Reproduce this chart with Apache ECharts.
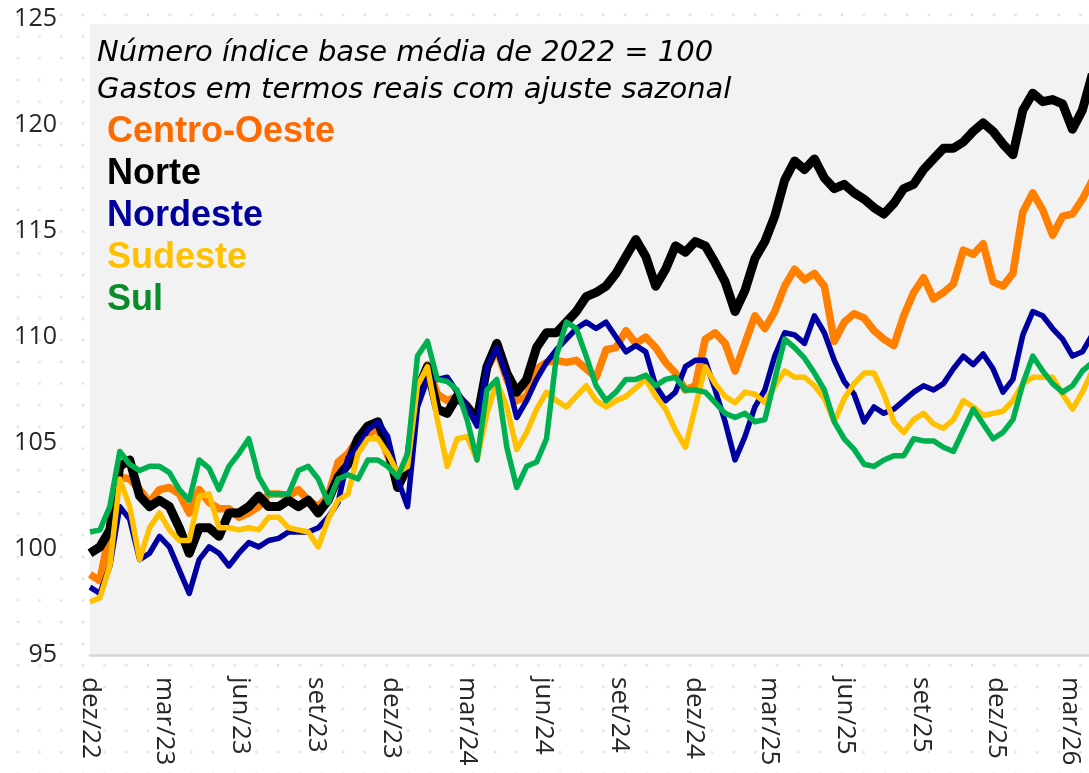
<!DOCTYPE html>
<html>
<head>
<meta charset="utf-8">
<script src="https://cdn.jsdelivr.net/npm/echarts@6/dist/echarts.min.js"></script>
<style>
  html, body {
    margin: 0;
    padding: 0;
    width: 1089px;
    height: 773px;
    overflow: hidden;
    background-color: #fff;
    background-image: radial-gradient(circle, #e0e0e0 1.1px, transparent 1.7px);
    background-size: 21.7px 21.7px;
    background-position: 7px 4px;
  }
  #chart {
    width: 1089px;
    height: 773px;
  }
</style>
</head>
<body>
<div id="chart"></div>
<script>
// amostras a cada 12 dias a partir de 01/12/2022
const startDate = [2022, 11, 1]
const stepDays = 12

const tickLabels = ['dez/22', 'mar/23', 'jun/23', 'set/23', 'dez/23', 'mar/24', 'jun/24', 'set/24', 'dez/24', 'mar/25', 'jun/25', 'set/25', 'dez/25', 'mar/26']
const monthNames = ['jan', 'fev', 'mar', 'abr', 'mai', 'jun', 'jul', 'ago', 'set', 'out', 'nov', 'dez']

const yTicks = [95, 100, 105, 110, 115, 120, 125]

const titleLines = ['Número índice base média de 2022 = 100', 'Gastos em termos reais com ajuste sazonal']

const regions = ['Centro-Oeste', 'Norte', 'Nordeste', 'Sudeste', 'Sul']
const lineColors = ['#ff7f00', '#000000', '#0000a0', '#ffc000', '#00b050']
const labelColors = ['#ff6a00', '#000000', '#00009c', '#ffc000', '#0a8c2a']

const centroOeste = [
  98.8, 98.5, 100.9, 103.4, 103.3, 102.8, 102.2, 102.8, 102.9, 102.6, 101.7, 102.8, 102.2, 101.9, 101.9, 101.5, 101.7, 102.0, 102.6, 102.6, 102.5, 102.8, 102.3, 102.0, 102.5, 104.1,
  104.5, 105.2, 105.4, 105.7, 104.4, 103.3, 103.7, 107.5, 108.7, 107.3, 107.0, 107.2, 106.8, 106.1, 108.5, 109.4, 108.0, 107.0, 107.2, 108.5, 108.8, 108.9, 108.8, 108.9, 108.5, 108.1,
  109.4, 109.5, 110.3, 109.7, 110.0, 109.5, 108.8, 108.3, 107.5, 107.7, 109.9, 110.2, 109.7, 108.4, 109.7, 111.0, 110.4, 111.2, 112.4, 113.2, 112.7, 113.0, 112.4, 109.8, 110.7,
  111.1, 110.9, 110.3, 109.9, 109.6, 111.0, 112.1, 112.8, 111.8, 112.1, 112.5, 114.1, 113.9, 114.4, 112.6, 112.4, 113.0, 115.9, 116.8, 116.0, 114.8, 115.7, 115.8, 116.5, 117.4
]
const norte = [
  99.8, 100.1, 100.9, 103.9, 104.2, 102.5, 102.0, 102.3, 102.0, 101.0, 99.8, 101.0, 101.0, 100.6, 101.7, 101.7, 102.0, 102.5, 102.0, 102.0, 102.3, 102.0, 102.3, 101.7, 102.3, 103.4,
  104.0, 105.2, 105.8, 106.0, 104.8, 102.9, 103.9, 107.5, 108.6, 106.6, 106.4, 107.2, 106.7, 106.1, 108.6, 109.7, 108.3, 107.4, 108.0, 109.5, 110.2, 110.2, 110.7, 111.2, 111.9, 112.1,
  112.4, 113.0, 113.8, 114.6, 113.8, 112.4, 113.2, 114.3, 114.0, 114.5, 114.3, 113.5, 112.6, 111.2, 112.2, 113.7, 114.5, 115.7, 117.4, 118.3, 117.9, 118.4, 117.5, 117.0, 117.2,
  116.8, 116.5, 116.1, 115.8, 116.3, 117.0, 117.2, 117.9, 118.4, 118.9, 118.9, 119.2, 119.7, 120.1, 119.7, 119.1, 118.6, 120.7, 121.5, 121.1, 121.2, 121.0, 119.8, 120.7, 122.4
]
const nordeste = [
  98.2, 97.9, 99.2, 102.0, 101.4, 99.5, 99.8, 100.6, 100.1, 99.0, 97.9, 99.5, 100.1, 99.8, 99.2, 99.8, 100.3, 100.1, 100.4, 100.5, 100.8, 100.8, 100.8, 101.0, 101.5, 102.2,
  104.3, 104.8, 105.6, 106.0, 105.3, 103.3, 102.0, 106.7, 108.0, 108.0, 108.1, 107.4, 106.7, 105.8, 108.6, 109.5, 108.1, 106.2, 107.0, 108.0, 108.8, 109.4, 109.9, 110.4, 110.7, 110.4,
  110.7, 110.0, 109.3, 109.6, 109.3, 107.7, 107.0, 107.4, 108.6, 108.9, 108.9, 107.5, 106.0, 104.2, 105.3, 106.7, 107.5, 109.1, 110.2, 110.1, 109.7, 111.0, 110.2, 108.9, 107.9,
  107.3, 106.0, 106.7, 106.4, 106.6, 107.0, 107.4, 107.7, 107.5, 107.8, 108.5, 109.1, 108.7, 109.2, 108.5, 107.4, 108.0, 110.1, 111.2, 111.0, 110.4, 109.9, 109.1, 109.3, 110.1
]
const sudeste = [
  97.5, 97.7, 99.2, 103.3, 102.0, 99.5, 101.0, 101.7, 100.9, 100.4, 100.4, 102.5, 102.6, 101.0, 101.0, 100.9, 101.0, 100.9, 101.5, 101.5, 101.0, 100.9, 100.8, 100.1, 101.4, 102.3,
  102.6, 104.5, 105.2, 105.2, 104.5, 103.6, 103.9, 107.7, 108.6, 106.1, 103.9, 105.2, 105.3, 104.2, 106.4, 107.9, 106.7, 104.7, 105.5, 106.6, 107.4, 107.0, 106.7, 107.2, 107.7, 107.0,
  106.7, 107.0, 107.2, 107.6, 108.0, 107.2, 106.6, 105.6, 104.8, 106.7, 108.6, 107.8, 107.2, 106.9, 107.4, 107.3, 106.9, 107.7, 108.4, 108.1, 108.1, 107.7, 107.1, 106.0, 107.1,
  107.8, 108.3, 108.3, 107.3, 106.0, 105.5, 106.1, 106.4, 105.9, 105.7, 106.1, 107.0, 106.7, 106.3, 106.4, 106.5, 107.0, 107.8, 108.1, 108.1, 108.1, 107.3, 106.6, 107.4, 108.4
]
const sul = [
  100.8, 100.9, 102.0, 104.6, 104.0, 103.7, 103.9, 103.9, 103.6, 102.8, 102.3, 104.2, 103.8, 102.8, 103.9, 104.5, 105.2, 103.4, 102.6, 102.6, 102.6, 103.7, 103.9, 103.3, 102.2, 103.3,
  103.5, 103.3, 104.2, 104.2, 103.9, 103.4, 104.5, 109.1, 109.8, 108.0, 107.9, 107.5, 106.1, 104.2, 107.5, 108.0, 104.8, 102.9, 103.9, 104.1, 105.2, 109.1, 110.7, 110.4, 109.1, 107.7,
  107.0, 107.4, 108.0, 108.0, 108.2, 107.7, 108.0, 108.1, 107.5, 107.5, 107.4, 106.9, 106.4, 106.2, 106.4, 106.0, 106.1, 108.0, 109.9, 109.5, 109.0, 108.3, 107.5, 106.0, 105.2,
  104.7, 104.0, 103.9, 104.2, 104.4, 104.4, 105.2, 105.1, 105.1, 104.8, 104.6, 105.6, 106.6, 105.9, 105.2, 105.5, 106.1, 107.8, 109.1, 108.4, 107.8, 107.4, 107.7, 108.4, 108.8
]
const seriesValues = [centroOeste, norte, nordeste, sudeste, sul]
const lineWidths = [7.5, 9, 5.5, 5.5, 5.5]

const dateAt = (i) => new Date(startDate[0], startDate[1], startDate[2] + i * stepDays).getTime()

const labelToTime = (label) => {
  const [m, y] = label.split('/')
  return new Date(2000 + Number(y), monthNames.indexOf(m), 1).getTime()
}
const tickTimes = tickLabels.map(labelToTime)

const formatTick = (value) => {
  const d = new Date(value)
  return monthNames[d.getMonth()] + '/' + String(d.getFullYear()).slice(2)
}

const xMin = labelToTime('dez/22')
const xMax = new Date(2026, 2, 23).getTime()

const chart = echarts.init(document.getElementById('chart'), null, { renderer: 'canvas' })

const option = {
  backgroundColor: 'transparent',
  animation: false,
  title: {
    text: titleLines.join('\n'),
    left: 97,
    top: 35,
    padding: 0,
    textStyle: {
      fontFamily: 'DejaVu Sans',
      fontStyle: 'italic',
      fontWeight: 'normal',
      fontSize: 29,
      lineHeight: 37,
      color: '#000'
    }
  },
  legend: {
    data: regions.map((name, i) => ({
      name,
      textStyle: { color: labelColors[i] }
    })),
    orient: 'vertical',
    left: 102,
    top: 114,
    padding: 0,
    icon: 'rect',
    itemWidth: 0,
    itemHeight: 0,
    itemGap: 6,
    selectedMode: false,
    textStyle: {
      fontFamily: 'Liberation Sans',
      fontWeight: 'bold',
      fontSize: 36,
      lineHeight: 35
    }
  },
  grid: [
    // grade principal: 95 a 125
    { left: 90, right: 0, top: 19, bottom: 118, show: false },
    // painel cinza, um pouco abaixo do topo da escala
    { left: 90, right: 0, top: 24, bottom: 118, show: true, backgroundColor: '#f2f2f2', borderWidth: 0 }
  ],
  xAxis: [
    {
      type: 'value',
      min: xMin,
      max: xMax,
      axisLine: {
        show: true,
        lineStyle: { color: '#d6d6d6', width: 2.5 }
      },
      axisTick: { show: false },
      splitLine: { show: false },
      axisLabel: {
        customValues: tickTimes,
        formatter: formatTick,
        rotate: -90,
        margin: 22,
        fontFamily: 'Open Sans',
        fontSize: 26,
        color: '#262626'
      }
    },
    { gridIndex: 1, type: 'value', min: xMin, max: xMax, show: false }
  ],
  yAxis: [
    {
      type: 'value',
      min: yTicks[0],
      max: yTicks[yTicks.length - 1],
      interval: 5,
      axisLine: { show: false },
      axisTick: { show: false },
      splitLine: { show: false },
      axisLabel: {
        margin: 33,
        fontFamily: 'Open Sans',
        fontSize: 25,
        color: '#262626'
      }
    },
    { gridIndex: 1, type: 'value', min: 0, max: 1, show: false }
  ],
  series: regions.map((name, i) => ({
    name,
    type: 'line',
    symbol: 'none',
    color: lineColors[i],
    lineStyle: {
      width: lineWidths[i],
      color: lineColors[i],
      join: 'round'
    },
    data: seriesValues[i].map((v, k) => [dateAt(k), v])
  }))
}

chart.setOption(option)
</script>
</body>
</html>
